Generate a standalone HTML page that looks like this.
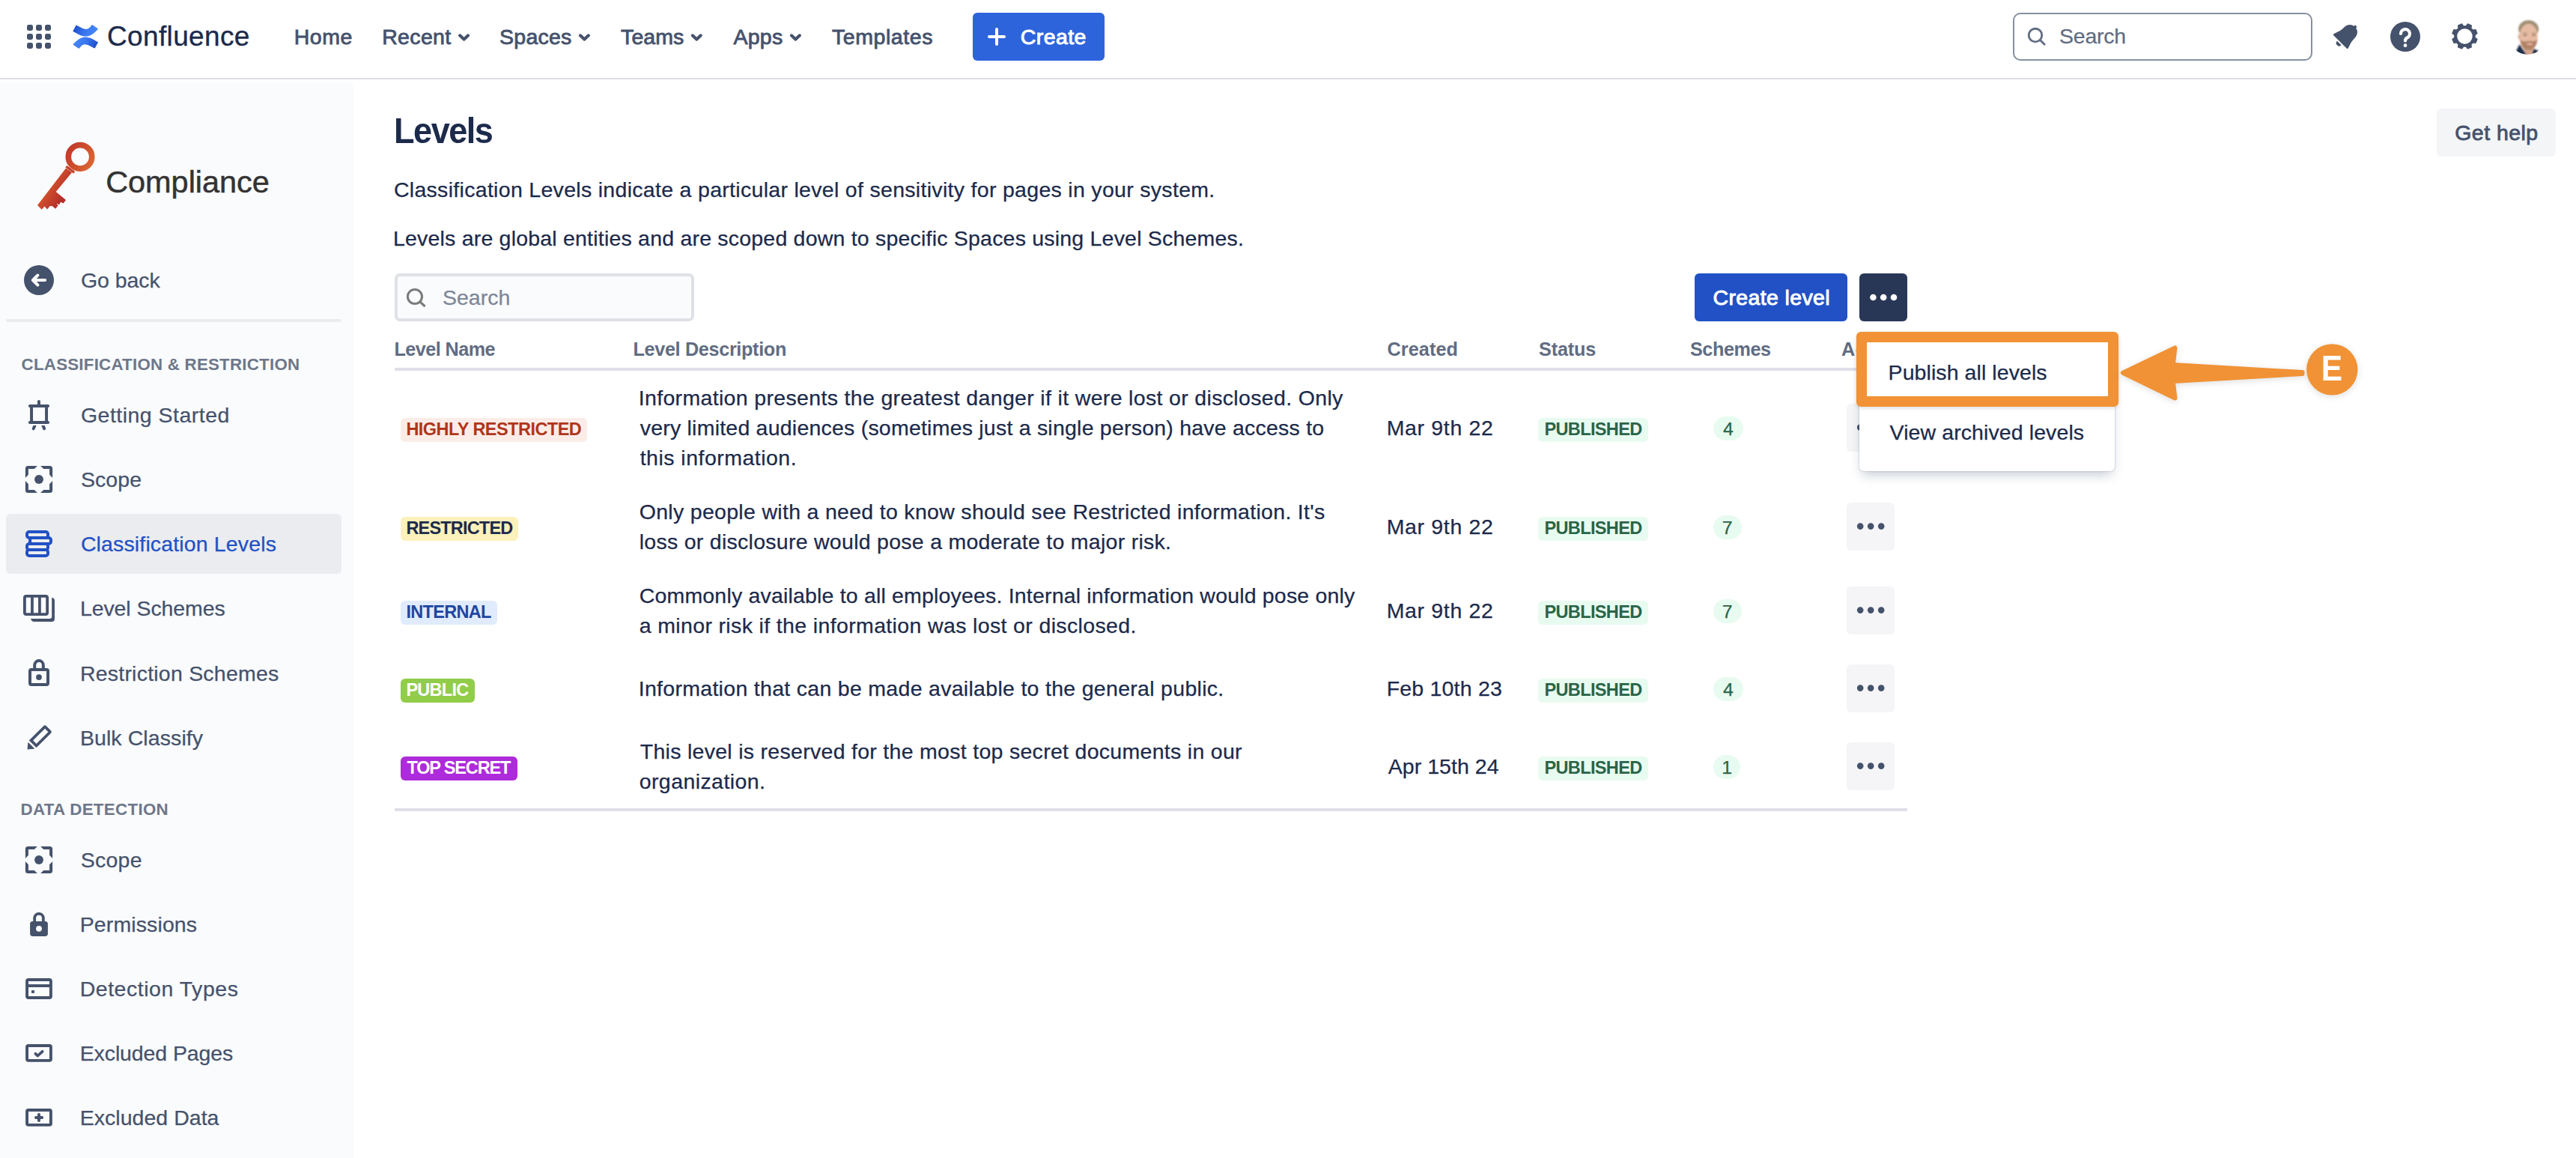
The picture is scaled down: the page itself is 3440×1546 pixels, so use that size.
<!DOCTYPE html>
<html lang="en">
<head>
<meta charset="utf-8">
<title>Levels - Compliance - Confluence</title>
<style>
*{box-sizing:border-box;margin:0;padding:0}
html,body{width:3440px;height:1546px;overflow:hidden;background:#fff}
body{position:relative;font-family:"Liberation Sans",sans-serif;color:#1C2A4B}
.t{position:absolute;white-space:pre;line-height:1;font-weight:400;font-family:"Liberation Sans",sans-serif;display:block}
.abs{position:absolute}
header{position:absolute;left:0;top:0;width:3440px;height:110px;background:#fff}
header .line{position:absolute;left:0;top:104px;width:3440px;height:2px;background:#DEDFE6}
aside{position:absolute;left:0;top:110px;width:472px;height:1436px;background:#FAFBFC}
main{position:absolute;left:0;top:0;width:3440px;height:1546px}
.btn{position:absolute;border-radius:6px}
.loz{position:absolute;height:32px;border-radius:6px}
.badge{position:absolute;height:32px;border-radius:16px}
.more{position:absolute;width:64px;height:64px;border-radius:6px;background:#F5F5F7}
.more svg{display:block;fill:#45526C}
.hr{position:absolute;height:4px;background:#DFE0E7}
svg{position:absolute;overflow:visible}
</style>
</head>
<body>
<main>
<!-- get help button -->
<div class="btn" style="left:3254px;top:145px;width:159px;height:64px;background:#F4F5F7"></div>
<!-- search input -->
<div class="abs" style="left:527px;top:365px;width:400px;height:64px;border:4px solid #DFE1E6;border-radius:7px;background:#FAFBFC"></div>
<svg style="left:543px;top:385px" width="28" height="28" viewBox="0 0 28 28" fill="none" stroke="#7B7B7B" stroke-width="3.1"><circle cx="10.96" cy="11" r="9.55"/><path d="M17.7 17.8L24.6 24"/></svg>
<!-- create level + more -->
<div class="btn" style="left:2263px;top:365px;width:204px;height:64px;background:#2151C5"></div>
<div class="btn" style="left:2483px;top:365px;width:64px;height:64px;background:#293756"><svg width="64" height="64" viewBox="0 0 64 64" fill="#fff"><circle cx="18.4" cy="32" r="4.3"/><circle cx="32.2" cy="32" r="4.3"/><circle cx="46" cy="32" r="4.3"/></svg></div>
<!-- table rules -->
<div class="hr" style="left:527px;top:491px;width:2020px"></div>
<div class="hr" style="left:527px;top:1079px;width:2020px"></div>
<div class="loz" style="left:535px;top:557.9px;width:248.8px;background:#FCECE7"></div>
<div class="loz" style="left:2054px;top:557.9px;width:147px;background:#E8FBF0"></div>
<div class="badge" style="left:2288px;top:556.3px;width:40px;background:#E8FBF0"></div>
<div class="more" style="left:2466px;top:539.4px"><svg width="64" height="64" viewBox="0 0 64 64"><circle cx="18.2" cy="31.6" r="4.3"/><circle cx="32.2" cy="31.6" r="4.3"/><circle cx="46.2" cy="31.6" r="4.3"/></svg></div>
<div class="loz" style="left:535px;top:689.9px;width:157.3px;background:#FCF1BA"></div>
<div class="loz" style="left:2054px;top:689.9px;width:147px;background:#E8FBF0"></div>
<div class="badge" style="left:2288px;top:688.3px;width:37.5px;background:#E8FBF0"></div>
<div class="more" style="left:2466px;top:671.4px"><svg width="64" height="64" viewBox="0 0 64 64"><circle cx="18.2" cy="31.6" r="4.3"/><circle cx="32.2" cy="31.6" r="4.3"/><circle cx="46.2" cy="31.6" r="4.3"/></svg></div>
<div class="loz" style="left:535px;top:801.9px;width:129.0px;background:#E0EBFD"></div>
<div class="loz" style="left:2054px;top:801.9px;width:147px;background:#E8FBF0"></div>
<div class="badge" style="left:2288px;top:800.3px;width:37.5px;background:#E8FBF0"></div>
<div class="more" style="left:2466px;top:783.4px"><svg width="64" height="64" viewBox="0 0 64 64"><circle cx="18.2" cy="31.6" r="4.3"/><circle cx="32.2" cy="31.6" r="4.3"/><circle cx="46.2" cy="31.6" r="4.3"/></svg></div>
<div class="loz" style="left:535px;top:905.9px;width:99.2px;background:#91CD48"></div>
<div class="loz" style="left:2054px;top:905.9px;width:147px;background:#E8FBF0"></div>
<div class="badge" style="left:2288px;top:904.3px;width:40px;background:#E8FBF0"></div>
<div class="more" style="left:2466px;top:887.4px"><svg width="64" height="64" viewBox="0 0 64 64"><circle cx="18.2" cy="31.6" r="4.3"/><circle cx="32.2" cy="31.6" r="4.3"/><circle cx="46.2" cy="31.6" r="4.3"/></svg></div>
<div class="loz" style="left:535px;top:1009.9px;width:156.0px;background:#AE2BDB"></div>
<div class="loz" style="left:2054px;top:1009.9px;width:147px;background:#E8FBF0"></div>
<div class="badge" style="left:2288px;top:1008.3px;width:36.2px;background:#E8FBF0"></div>
<div class="more" style="left:2466px;top:991.4px"><svg width="64" height="64" viewBox="0 0 64 64"><circle cx="18.2" cy="31.6" r="4.3"/><circle cx="32.2" cy="31.6" r="4.3"/><circle cx="46.2" cy="31.6" r="4.3"/></svg></div>
<h1 class="t" style="left:525.6px;top:151px;font-size:48px;font-weight:700;letter-spacing:-1.6px;transform:scaleX(0.9397);transform-origin:0 0;color:#1C2A4B;">Levels</h1>
<span class="t" style="left:3278.2px;top:163px;font-size:28.5px;letter-spacing:0.464px;color:#45526C;-webkit-text-stroke:0.85px #45526C;">Get help</span>
<p class="t" style="left:525.9px;top:239px;font-size:28.5px;letter-spacing:0.305px;color:#1C2A4B;-webkit-text-stroke:0.25px #1C2A4B;">Classification Levels indicate a particular level of sensitivity for pages in your system.</p>
<p class="t" style="left:524.9px;top:304px;font-size:28.5px;letter-spacing:0.207px;color:#1C2A4B;-webkit-text-stroke:0.25px #1C2A4B;">Levels are global entities and are scoped down to specific Spaces using Level Schemes.</p>
<span class="t" style="left:590.9px;top:383px;font-size:28.5px;letter-spacing:0.018px;color:#7C8698;-webkit-text-stroke:0.25px #7C8698;">Search</span>
<span class="t" style="left:2287.5px;top:383px;font-size:28.5px;letter-spacing:0.364px;color:#fff;-webkit-text-stroke:0.95px #fff;">Create level</span>
<span class="t" style="left:526.4px;top:454px;font-size:25.2px;font-weight:700;letter-spacing:-0.534px;color:#616C82;">Level Name</span>
<span class="t" style="left:845.5px;top:454px;font-size:25.2px;font-weight:700;letter-spacing:-0.324px;color:#616C82;">Level Description</span>
<span class="t" style="left:1852.6px;top:454px;font-size:25.2px;font-weight:700;letter-spacing:0.081px;color:#616C82;">Created</span>
<span class="t" style="left:2055.0px;top:454px;font-size:25.2px;font-weight:700;letter-spacing:-0.155px;color:#616C82;">Status</span>
<span class="t" style="left:2257.0px;top:454px;font-size:25.2px;font-weight:700;letter-spacing:-0.436px;color:#616C82;">Schemes</span>
<span class="t" style="left:2459.0px;top:454px;font-size:25.2px;font-weight:700;letter-spacing:0.439px;color:#616C82;">Actions</span>
<span class="t" style="left:852.7px;top:517px;font-size:28.5px;letter-spacing:0.338px;color:#1C2A4B;-webkit-text-stroke:0.25px #1C2A4B;">Information presents the greatest danger if it were lost or disclosed. Only</span>
<span class="t" style="left:854.7px;top:557px;font-size:28.5px;letter-spacing:0.222px;color:#1C2A4B;-webkit-text-stroke:0.25px #1C2A4B;">very limited audiences (sometimes just a single person) have access to</span>
<span class="t" style="left:854.7px;top:597px;font-size:28.5px;letter-spacing:0.481px;color:#1C2A4B;-webkit-text-stroke:0.25px #1C2A4B;">this information.</span>
<span class="t" style="left:1851.7px;top:557px;font-size:28.5px;letter-spacing:0.661px;color:#1C2A4B;-webkit-text-stroke:0.25px #1C2A4B;">Mar 9th 22</span>
<span class="t" style="left:542.4px;top:562px;font-size:23.5px;font-weight:700;letter-spacing:-0.532px;color:#B0351A;">HIGHLY RESTRICTED</span>
<span class="t" style="left:2062.4px;top:562px;font-size:23.5px;font-weight:700;letter-spacing:-0.616px;color:#2A6447;">PUBLISHED</span>
<span class="t" style="left:2301.1px;top:561px;font-size:24.8px;color:#2A6447;-webkit-text-stroke:0.25px #2A6447;">4</span>
<span class="t" style="left:853.7px;top:669px;font-size:28.5px;letter-spacing:0.306px;color:#1C2A4B;-webkit-text-stroke:0.25px #1C2A4B;">Only people with a need to know should see Restricted information. It's</span>
<span class="t" style="left:853.7px;top:709px;font-size:28.5px;letter-spacing:0.276px;color:#1C2A4B;-webkit-text-stroke:0.25px #1C2A4B;">loss or disclosure would pose a moderate to major risk.</span>
<span class="t" style="left:1851.7px;top:689px;font-size:28.5px;letter-spacing:0.661px;color:#1C2A4B;-webkit-text-stroke:0.25px #1C2A4B;">Mar 9th 22</span>
<span class="t" style="left:542.4px;top:694px;font-size:23.5px;font-weight:700;letter-spacing:-0.809px;color:#1C2A4B;">RESTRICTED</span>
<span class="t" style="left:2062.4px;top:694px;font-size:23.5px;font-weight:700;letter-spacing:-0.616px;color:#2A6447;">PUBLISHED</span>
<span class="t" style="left:2299.8px;top:693px;font-size:24.8px;color:#2A6447;-webkit-text-stroke:0.25px #2A6447;">7</span>
<span class="t" style="left:853.7px;top:781px;font-size:28.5px;letter-spacing:0.181px;color:#1C2A4B;-webkit-text-stroke:0.25px #1C2A4B;">Commonly available to all employees. Internal information would pose only</span>
<span class="t" style="left:853.7px;top:821px;font-size:28.5px;letter-spacing:0.360px;color:#1C2A4B;-webkit-text-stroke:0.25px #1C2A4B;">a minor risk if the information was lost or disclosed.</span>
<span class="t" style="left:1851.7px;top:801px;font-size:28.5px;letter-spacing:0.661px;color:#1C2A4B;-webkit-text-stroke:0.25px #1C2A4B;">Mar 9th 22</span>
<span class="t" style="left:542.4px;top:806px;font-size:23.5px;font-weight:700;letter-spacing:-0.692px;color:#1E46A0;">INTERNAL</span>
<span class="t" style="left:2062.4px;top:806px;font-size:23.5px;font-weight:700;letter-spacing:-0.616px;color:#2A6447;">PUBLISHED</span>
<span class="t" style="left:2299.8px;top:805px;font-size:24.8px;color:#2A6447;-webkit-text-stroke:0.25px #2A6447;">7</span>
<span class="t" style="left:852.7px;top:905px;font-size:28.5px;letter-spacing:0.299px;color:#1C2A4B;-webkit-text-stroke:0.25px #1C2A4B;">Information that can be made available to the general public.</span>
<span class="t" style="left:1851.7px;top:905px;font-size:28.5px;letter-spacing:0.198px;color:#1C2A4B;-webkit-text-stroke:0.25px #1C2A4B;">Feb 10th 23</span>
<span class="t" style="left:542.4px;top:910px;font-size:23.5px;font-weight:700;letter-spacing:-0.743px;color:#FFFFFF;">PUBLIC</span>
<span class="t" style="left:2062.4px;top:910px;font-size:23.5px;font-weight:700;letter-spacing:-0.616px;color:#2A6447;">PUBLISHED</span>
<span class="t" style="left:2301.1px;top:909px;font-size:24.8px;color:#2A6447;-webkit-text-stroke:0.25px #2A6447;">4</span>
<span class="t" style="left:854.7px;top:989px;font-size:28.5px;letter-spacing:0.293px;color:#1C2A4B;-webkit-text-stroke:0.25px #1C2A4B;">This level is reserved for the most top secret documents in our</span>
<span class="t" style="left:853.7px;top:1029px;font-size:28.5px;letter-spacing:0.422px;color:#1C2A4B;-webkit-text-stroke:0.25px #1C2A4B;">organization.</span>
<span class="t" style="left:1853.7px;top:1009px;font-size:28.5px;letter-spacing:0.044px;color:#1C2A4B;-webkit-text-stroke:0.25px #1C2A4B;">Apr 15th 24</span>
<span class="t" style="left:543.4px;top:1014px;font-size:23.5px;font-weight:700;letter-spacing:-1.151px;color:#FFFFFF;">TOP SECRET</span>
<span class="t" style="left:2062.4px;top:1014px;font-size:23.5px;font-weight:700;letter-spacing:-0.616px;color:#2A6447;">PUBLISHED</span>
<span class="t" style="left:2299.3px;top:1013px;font-size:24.8px;color:#2A6447;-webkit-text-stroke:0.25px #2A6447;">1</span>
<!-- dropdown -->
<div class="abs" style="left:2483px;top:445px;width:341px;height:184px;background:#fff;border-radius:6px;box-shadow:0 8px 16px -4px rgba(9,30,66,.25),0 0 2px rgba(9,30,66,.31)"></div>
<!-- annotation -->
<div class="abs" style="left:2479px;top:443px;width:350px;height:100px;border:14px solid #F09235;border-radius:6px;box-shadow:0 2px 5px rgba(0,0,0,.13)"></div>
<svg style="left:0;top:0;filter:drop-shadow(0 2px 4px rgba(0,0,0,.13))" width="3440" height="1546" viewBox="0 0 3440 1546">
<g fill="#F09235" stroke="#F09235" stroke-width="6" stroke-linejoin="round">
<path d="M2835 497.8 L2904.5 464.5 L2901.8 487 L3074.5 497.1 L3074.5 499.1 L2901.8 509 L2904.5 531.5 Z"/>
</g>
<circle cx="3114.3" cy="493.4" r="34.2" fill="#F09235"/>
<text x="3113.8" y="508.4" text-anchor="middle" font-family="Liberation Sans, sans-serif" font-weight="700" font-size="48.5" fill="#fff" transform="translate(3114.7 0) scale(0.876 1) translate(-3114.7 0)">E</text>
</svg>
<span class="t" style="left:2521.6px;top:483px;font-size:28.5px;letter-spacing:0.076px;color:#1C2A4B;-webkit-text-stroke:0.25px #1C2A4B;">Publish all levels</span>
<span class="t" style="left:2523.6px;top:563px;font-size:28.5px;letter-spacing:0.095px;color:#1C2A4B;-webkit-text-stroke:0.25px #1C2A4B;">View archived levels</span>
</main>

<aside>
</aside>
<div id="sidebar" class="abs" style="left:0;top:0;width:472px;height:1546px">
<!-- key logo -->
<svg style="left:0;top:0" width="472" height="400" viewBox="0 0 472 400">
<defs><linearGradient id="kg" x1="88" y1="200" x2="127" y2="222" gradientUnits="userSpaceOnUse"><stop offset="0" stop-color="#BF382B"/><stop offset="1" stop-color="#DF6A31"/></linearGradient>
<linearGradient id="kg2" x1="58" y1="244" x2="86" y2="262" gradientUnits="userSpaceOnUse"><stop offset="0" stop-color="#DA5B2E"/><stop offset=".55" stop-color="#C7432B"/><stop offset="1" stop-color="#B2302A"/></linearGradient></defs>
<circle cx="107" cy="209.400" r="15.700" fill="none" stroke="url(#kg)" stroke-width="7.700"/>
<path d="M88 224.600 L50 274 L55.700 279.700 L59.500 275.500 L63 279.500 L66.500 275.300 L69.500 275 L74.200 278.800 L77.500 274.500 L75.500 271.500 L79 273.500 L81 269.700 L84.600 271.600 L88 266.900 L74.700 256 L96 230.300Z" fill="url(#kg2)"/>
<path d="M87.200 223.200 L89.400 221 L100 228.900 L98.400 231.800Z" fill="#C43E2B"/>
</svg>
<!-- go back -->
<svg style="left:32px;top:354px" width="40" height="40" viewBox="0 0 40 40"><circle cx="20" cy="20" r="20" fill="#45526C"/><path d="M28.15 20H12.500M18.400 13.500L11.850 20l6.550 6.500" fill="none" stroke="#FAFBFC" stroke-width="4" stroke-linecap="round" stroke-linejoin="round"/></svg>
<div class="abs" style="left:8px;top:426px;width:448px;height:4px;border-radius:2px;background:#EBECF0"></div>
<!-- selected item -->
<div class="abs" style="left:8px;top:686px;width:448px;height:80px;border-radius:6px;background:#EBECF0"></div>

<!-- getting started (easel) -->
<svg style="left:28px;top:530px" width="48" height="48" viewBox="0 0 48 48" fill="none" stroke="#45526C" stroke-width="3.95" stroke-linecap="round"><path d="M23.93 5.85v6M11.9 12h24.200M11.9 34.08h24.200M14.06 12v22M34.06 12v22"/><path d="M16.4 38H20.700L18.540 43.090A2 2 0 0 1 14.860 41.510ZM27.200 38H31.600L32.960 41.560A2 2 0 0 1 29.240 43.040Z" fill="#45526C" stroke="none"/></svg>
<!-- scope -->
<svg style="left:28px;top:616px" width="48" height="48" viewBox="0 0 48 48" fill="#45526C"><path d="M21.9 5.9H9.5A3.6 3.6 0 0 0 5.9 9.5V21.9L9.9 17.8V9.9H17.8ZM26.1 5.9H38.5A3.6 3.6 0 0 1 42.1 9.5V21.9L38.1 17.8V9.9H30.2ZM21.9 42.1H9.5A3.6 3.6 0 0 1 5.9 38.5V26.1L9.9 30.2V38.1H17.8ZM26.1 42.1H38.5A3.6 3.6 0 0 0 42.1 38.5V26.1L38.1 30.2V38.1H30.2Z"/><circle cx="24" cy="24" r="5.95"/></svg>
<!-- classification levels -->
<svg style="left:28px;top:702px" width="48" height="48" viewBox="0 0 48 48" fill="none" stroke="#2151C5" stroke-width="4"><rect x="8" y="8" width="28" height="8" rx="3"/><rect x="12" y="16" width="28" height="8" rx="3"/><rect x="8" y="24" width="28" height="8" rx="3"/><rect x="8" y="32" width="28" height="8" rx="3"/></svg>
<!-- level schemes -->
<svg style="left:28px;top:788px" width="48" height="48" viewBox="0 0 48 48" fill="none" stroke="#45526C" stroke-width="3.8"><rect x="4.9" y="7.92" width="30.24" height="24.16" rx="2.2"/><path d="M14.96 8v24M24.94 8v24" stroke-width="3.75"/><path d="M41.18 9.8C43.3 10.3 44.96 11.6 44.96 13.6V38.2A3.75 3.75 0 0 1 41.2 41.93H16.9C14.9 41.93 13.6 40.3 13.1 38.04H38.5A2.7 2.7 0 0 0 41.18 35.35Z" fill="#45526C" stroke="none"/></svg>
<!-- restriction schemes (lock outline) -->
<svg style="left:28px;top:874px" width="48" height="48" viewBox="0 0 48 48" fill="none" stroke="#45526C" stroke-width="4"><rect x="12" y="19.900" width="24" height="20.050" rx="2"/><path d="M18.200 19.900v-6a5.800 5.800 0 0 1 11.600 0v6"/><circle cx="24" cy="30.100" r="3.900" fill="#45526C" stroke="none"/></svg>
<!-- bulk classify (pencil) -->
<svg style="left:0px;top:950px" width="100" height="70" viewBox="0 950 100 70"><g transform="translate(36.45 1000.65) rotate(-45)" fill="#45526C"><path d="M0.8 0L7.300 -5.300V5.300Z" stroke="#45526C" stroke-width="1" stroke-linejoin="round"/><path fill-rule="evenodd" d="M10.2 -6.950H37.600A2.600 2.600 0 0 1 40.200 -4.350V4.350A2.600 2.600 0 0 1 37.600 6.950H10.200ZM14 -3.150V3.150H36.400V-3.150Z"/></g></svg>
<!-- scope 2 -->
<svg style="left:28px;top:1124px" width="48" height="48" viewBox="0 0 48 48" fill="#45526C"><path d="M21.9 5.9H9.5A3.6 3.6 0 0 0 5.9 9.5V21.9L9.9 17.8V9.9H17.8ZM26.1 5.9H38.5A3.6 3.6 0 0 1 42.1 9.5V21.9L38.1 17.8V9.9H30.2ZM21.9 42.1H9.5A3.6 3.6 0 0 1 5.9 38.5V26.1L9.9 30.2V38.1H17.8ZM26.1 42.1H38.5A3.6 3.6 0 0 0 42.1 38.5V26.1L38.1 30.2V38.1H30.2Z"/><circle cx="24" cy="24" r="5.95"/></svg>
<!-- permissions (filled lock) -->
<svg style="left:28px;top:1210px" width="48" height="48" viewBox="0 0 48 48" fill="none" stroke="#45526C" stroke-width="4"><rect x="12.1" y="19.900" width="23.800" height="20" rx="3.600" fill="#45526C" stroke="none"/><path d="M18.150 21v-5.300a5.850 5.850 0 0 1 11.700 0V21" stroke-width="3.800"/><circle cx="24" cy="29.850" r="3.950" fill="#FAFBFC" stroke="none"/></svg>
<!-- detection types (card) -->
<svg style="left:28px;top:1296px" width="48" height="48" viewBox="0 0 48 48" fill="none" stroke="#45526C" stroke-width="4"><rect x="8.05" y="12" width="31.850" height="24" rx="2" stroke-width="3.900"/><path d="M8.050 20.050h31.850" stroke-width="3.900"/><rect x="14.030" y="26.100" width="3.900" height="3.800" fill="#45526C" stroke="none"/></svg>
<!-- excluded pages -->
<svg style="left:28px;top:1382px" width="48" height="48" viewBox="0 0 48 48" fill="none" stroke="#45526C" stroke-width="4"><rect x="8.05" y="13.980" width="31.850" height="19.940" rx="1.800" stroke-width="3.900"/><path d="M19.400 24.800L22.400 27.500L28.600 21.800" stroke-width="3.700" stroke-linecap="round" stroke-linejoin="round"/></svg>
<!-- excluded data -->
<svg style="left:28px;top:1468px" width="48" height="48" viewBox="0 0 48 48" fill="none" stroke="#45526C" stroke-width="4"><rect x="8.05" y="13.980" width="31.850" height="19.940" rx="1.800" stroke-width="3.900"/><path d="M20 24h8.100M23.950 20.100v7.900" stroke-width="4" stroke-linecap="round"/></svg>

<span class="t" style="left:141.2px;top:222px;font-size:41.5px;letter-spacing:-0.062px;color:#333333;-webkit-text-stroke:0.5px #333333;">Compliance</span>
<span class="t" style="left:107.9px;top:360px;font-size:28.5px;letter-spacing:-0.057px;color:#45526C;-webkit-text-stroke:0.25px #45526C;">Go back</span>
<span class="t" style="left:28.6px;top:476px;font-size:22.3px;font-weight:700;letter-spacing:0.240px;color:#6D778A;">CLASSIFICATION &amp; RESTRICTION</span>
<span class="t" style="left:107.9px;top:540px;font-size:28.5px;letter-spacing:0.486px;color:#45526C;-webkit-text-stroke:0.25px #45526C;">Getting Started</span>
<span class="t" style="left:107.9px;top:626px;font-size:28.5px;letter-spacing:0.097px;color:#45526C;-webkit-text-stroke:0.25px #45526C;">Scope</span>
<span class="t" style="left:107.9px;top:712px;font-size:28.5px;letter-spacing:0.140px;color:#2151C5;-webkit-text-stroke:0.25px #2151C5;">Classification Levels</span>
<span class="t" style="left:106.9px;top:798px;font-size:28.5px;letter-spacing:-0.080px;color:#45526C;-webkit-text-stroke:0.25px #45526C;">Level Schemes</span>
<span class="t" style="left:106.9px;top:885px;font-size:28.5px;letter-spacing:0.225px;color:#45526C;-webkit-text-stroke:0.25px #45526C;">Restriction Schemes</span>
<span class="t" style="left:106.9px;top:971px;font-size:28.5px;letter-spacing:0.090px;color:#45526C;-webkit-text-stroke:0.25px #45526C;">Bulk Classify</span>
<span class="t" style="left:27.6px;top:1070px;font-size:22.3px;font-weight:700;letter-spacing:0.330px;color:#6D778A;">DATA DETECTION</span>
<span class="t" style="left:107.7px;top:1134px;font-size:28.5px;letter-spacing:0.247px;color:#45526C;-webkit-text-stroke:0.25px #45526C;">Scope</span>
<span class="t" style="left:106.7px;top:1220px;font-size:28.5px;letter-spacing:0.118px;color:#45526C;-webkit-text-stroke:0.25px #45526C;">Permissions</span>
<span class="t" style="left:106.7px;top:1306px;font-size:28.5px;letter-spacing:0.525px;color:#45526C;-webkit-text-stroke:0.25px #45526C;">Detection Types</span>
<span class="t" style="left:106.7px;top:1392px;font-size:28.5px;letter-spacing:-0.106px;color:#45526C;-webkit-text-stroke:0.25px #45526C;">Excluded Pages</span>
<span class="t" style="left:106.7px;top:1478px;font-size:28.5px;letter-spacing:0.035px;color:#45526C;-webkit-text-stroke:0.25px #45526C;">Excluded Data</span>
</div>

<header>
<div class="line"></div>
<div class="abs" style="left:2688px;top:17px;width:400px;height:64px;border:2.5px solid #8590A0;border-radius:10px;background:#fff"></div>

<!-- app switcher -->
<svg style="left:24px;top:25px" width="48" height="48" viewBox="0 0 48 48" fill="#45526C">
<rect x="12" y="8" width="8" height="8" rx="2.4"/><rect x="24" y="8" width="8" height="8" rx="2.4"/><rect x="36" y="8" width="8" height="8" rx="2.4"/>
<rect x="12" y="20" width="8" height="8" rx="2.4"/><rect x="24" y="20" width="8" height="8" rx="2.4"/><rect x="36" y="20" width="8" height="8" rx="2.4"/>
<rect x="12" y="32" width="8" height="8" rx="2.4"/><rect x="24" y="32" width="8" height="8" rx="2.4"/><rect x="36" y="32" width="8" height="8" rx="2.4"/>
</svg>
<!-- confluence logo -->
<svg style="left:0;top:0" width="200" height="100" viewBox="0 0 200 100">
<defs>
<linearGradient id="cg1" x1="99" y1="35" x2="126" y2="46" gradientUnits="userSpaceOnUse"><stop offset="0" stop-color="#1B4CC8"/><stop offset=".55" stop-color="#3A77EE"/><stop offset="1" stop-color="#4384F7"/></linearGradient>
<linearGradient id="cg2" x1="129.400" y1="63" x2="102.400" y2="52" gradientUnits="userSpaceOnUse"><stop offset="0" stop-color="#1B4CC8"/><stop offset=".55" stop-color="#3A77EE"/><stop offset="1" stop-color="#4384F7"/></linearGradient>
</defs>
<path fill="url(#cg1)" d="M101.700 33.400 L97.300 41.800 C103 44.800 108 48.600 114.500 48.600 C121.500 48.600 126.500 43.500 131.100 38.400 L123 33 C120.500 36 118.500 38.800 115.300 38.800 C111.500 38.800 107 36 101.700 33.400 Z"/>
<path fill="url(#cg2)" d="M126.700 64.600 L131.100 56.200 C125.400 53.200 120.400 49.400 113.900 49.400 C106.900 49.400 101.900 54.500 97.300 59.600 L105.400 65 C107.900 62 109.900 59.200 113.100 59.200 C116.900 59.200 121.400 62 126.700 64.600 Z"/>
</svg>
<!-- chevrons -->
<svg style="left:611px;top:44px" width="18" height="13" viewBox="-0.60 -0.40 18 13" fill="none" stroke="#45526C" stroke-width="4.1" stroke-linecap="round" stroke-linejoin="round"><path d="M2.5 2.9L8 8.1l5.500-5.200"/></svg>
<svg style="left:772px;top:44px" width="18" height="13" viewBox="-0.40 -0.40 18 13" fill="none" stroke="#45526C" stroke-width="4.1" stroke-linecap="round" stroke-linejoin="round"><path d="M2.5 2.9L8 8.1l5.500-5.200"/></svg>
<svg style="left:922px;top:44px" width="18" height="13" viewBox="-0.30 -0.40 18 13" fill="none" stroke="#45526C" stroke-width="4.1" stroke-linecap="round" stroke-linejoin="round"><path d="M2.5 2.9L8 8.1l5.500-5.200"/></svg>
<svg style="left:1054px;top:44px" width="18" height="13" viewBox="-0.40 -0.40 18 13" fill="none" stroke="#45526C" stroke-width="4.1" stroke-linecap="round" stroke-linejoin="round"><path d="M2.5 2.9L8 8.1l5.500-5.200"/></svg>
<!-- nav search icon -->
<svg style="left:2707px;top:36px" width="28" height="28" viewBox="0 -0.5 28 28" fill="none" stroke="#616C82" stroke-width="2.8"><circle cx="11" cy="10.54" r="8.8"/><path d="M17.2 16.8L24 23.4"/></svg>
<!-- bell -->
<svg style="left:3108px;top:25px" width="48" height="48" viewBox="0 0 24 24" fill="#45526C"><path d="M6.485 17.669a2 2 0 002.829 0l-2.829-2.830a2 2 0 000 2.830zm4.897-12.191l-.725.725c-.782.782-2.210 1.813-3.206 2.311l-3.017 1.509c-.495.248-.584.774-.187 1.171l8.556 8.556c.398.396.922.313 1.171-.188l1.510-3.016c.494-.988 1.526-2.420 2.311-3.206l.725-.726a5.048 5.048 0 00.640-6.356 1.010 1.010 0 10-1.354-1.494c-.023.025-.046.049-.066.075a5.043 5.043 0 00-2.788-.840 5.036 5.036 0 00-3.570 1.478z"/></svg>
<!-- help -->
<svg style="left:3188px;top:25px" width="48" height="48" viewBox="0 0 24 24"><circle cx="12" cy="12" r="10" fill="#45526C"/><path d="M9 10a3 3 0 1 1 4.300 2.700c-.800.450-1.300.900-1.300 1.800v.200" fill="none" stroke="#fff" stroke-width="2.100" stroke-linecap="round"/><circle cx="12" cy="17.850" r="1.180" fill="#fff"/></svg>
<!-- gear -->
<svg style="left:3267px;top:24px" width="48" height="48" viewBox="-24.46 -24.45 48 48"><path fill="#45526C" stroke="#45526C" stroke-width="1.6" stroke-linejoin="round" d="M13.47 1.89 L16.34 3.92 L14.32 8.78 L10.86 8.18 L8.18 10.86 L8.78 14.32 L3.92 16.34 L1.89 13.47 L-1.89 13.47 L-3.92 16.34 L-8.78 14.32 L-8.18 10.86 L-10.86 8.18 L-14.32 8.78 L-16.34 3.92 L-13.47 1.89 L-13.47 -1.89 L-16.34 -3.92 L-14.32 -8.78 L-10.86 -8.18 L-8.18 -10.86 L-8.78 -14.32 L-3.92 -16.34 L-1.89 -13.47 L1.89 -13.47 L3.92 -16.34 L8.78 -14.32 L8.18 -10.86 L10.86 -8.18 L14.32 -8.78 L16.34 -3.92 L13.47 -1.89Z"/><circle r="10.25" fill="#fff"/></svg>
<!-- avatar -->
<svg style="left:3351px;top:25px" width="48" height="48" viewBox="0 0 48 48">
<defs><clipPath id="avc"><circle cx="24.2" cy="23.9" r="24"/></clipPath><filter id="avb" x="-20%" y="-20%" width="140%" height="140%"><feGaussianBlur stdDeviation="1.1"/></filter></defs>
<g clip-path="url(#avc)"><g filter="url(#avb)">
<path d="M8.5 44 L13.7 34 L17 39.5 L24 49 L6 49Z" fill="#1F2E4B"/>
<path d="M29.5 48 L32.5 40 L40 43.500 L37 49Z" fill="#1F2E4B"/>
<path d="M16.500 36 L32 36 L30.500 49 L23 49Z" fill="#D4A58C"/>
<ellipse cx="25.600" cy="13.800" rx="13.500" ry="11.900" fill="#A08F74"/>
<ellipse cx="25.700" cy="24.300" rx="12.100" ry="17.600" fill="#E6BBA3"/>
<ellipse cx="12.900" cy="24" rx="1.400" ry="3.600" fill="#DDAA92"/>
<path d="M14.300 27 C15 37.500 19.500 41.700 26 41.700 C32 41.700 36.500 37.500 37.500 27 C35 31 31.500 29.800 27 29.800 C22 29.800 18 32 14.300 27Z" fill="#B08262"/>
<ellipse cx="27.300" cy="33.700" rx="4.400" ry="1.500" fill="#E3AFA2"/>
<ellipse cx="21" cy="21.900" rx="2.500" ry="1" fill="#7C6B56"/><ellipse cx="32.700" cy="21.900" rx="2.500" ry="1" fill="#7C6B56"/>
<path d="M17.500 19.500 Q21 18 24 19.300 M29.500 19.300 Q33 18 36 19.500" stroke="#A08468" stroke-width="1" fill="none"/>
</g></g></svg>

<div class="btn" style="left:1299px;top:17px;width:176px;height:64px;background:#2D64DC"></div>
<svg style="left:1319px;top:37px" width="24" height="24" viewBox="0 0 24 24" stroke="#fff" stroke-width="4" stroke-linecap="round"><path d="M12 2v20M2 12h20"/></svg>
<span class="t" style="left:143.0px;top:30px;font-size:37px;letter-spacing:0.360px;color:#1C2A4B;-webkit-text-stroke:0.35px #1C2A4B;">Confluence</span>
<span class="t" style="left:392.7px;top:35px;font-size:28.5px;letter-spacing:0.556px;color:#45526C;-webkit-text-stroke:0.85px #45526C;">Home</span>
<span class="t" style="left:510.2px;top:35px;font-size:28.5px;letter-spacing:0.351px;color:#45526C;-webkit-text-stroke:0.85px #45526C;">Recent</span>
<span class="t" style="left:667.1px;top:35px;font-size:28.5px;letter-spacing:0.227px;color:#45526C;-webkit-text-stroke:0.85px #45526C;">Spaces</span>
<span class="t" style="left:829.1px;top:35px;font-size:28.5px;letter-spacing:0.062px;color:#45526C;-webkit-text-stroke:0.85px #45526C;">Teams</span>
<span class="t" style="left:979.4px;top:35px;font-size:28.5px;letter-spacing:0.277px;color:#45526C;-webkit-text-stroke:0.85px #45526C;">Apps</span>
<span class="t" style="left:1110.9px;top:35px;font-size:28.5px;letter-spacing:0.587px;color:#45526C;-webkit-text-stroke:0.85px #45526C;">Templates</span>
<span class="t" style="left:1362.8px;top:35px;font-size:28.5px;letter-spacing:0.411px;color:#fff;-webkit-text-stroke:0.95px #fff;">Create</span>
<span class="t" style="left:2750.0px;top:34px;font-size:28.5px;letter-spacing:-0.222px;color:#616C82;-webkit-text-stroke:0.25px #616C82;">Search</span>
</header>
</body>
</html>
